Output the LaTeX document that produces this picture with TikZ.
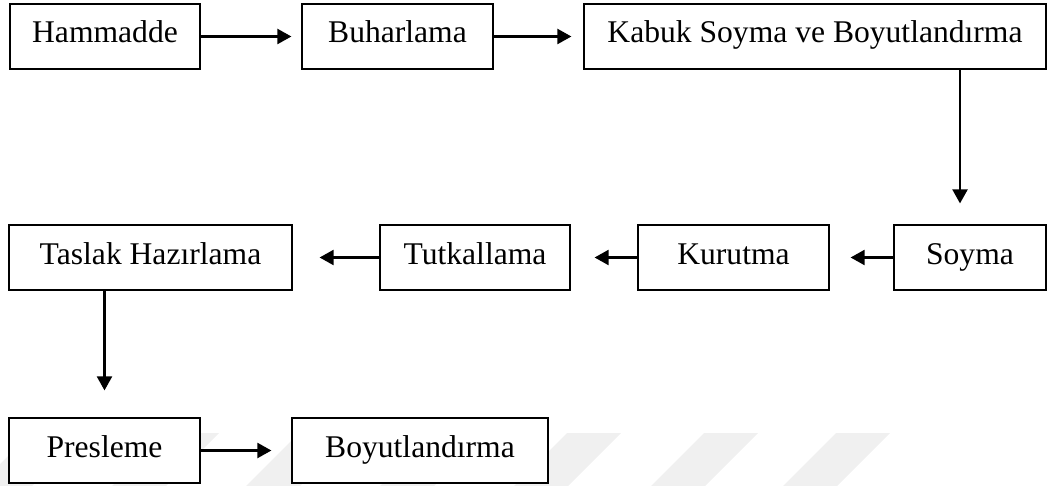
\documentclass[tikz,border=0pt]{standalone}
\usepackage{fontspec}
\setmainfont{Liberation Serif}
\usetikzlibrary{arrows.meta,positioning,calc}
\definecolor{Mark}{HTML}{F0F0F0}

\begin{document}
\begin{tikzpicture}[x=0.5pt,y=-0.5pt,
  box/.style={draw,fill=white,line width=0.6pt,minimum height=32.5pt,inner sep=0pt,
    text height=10pt,text depth=3.5pt,font=\fontsize{15.8}{19}\selectfont},
  flow/.style={line width=1.1pt,-{Triangle[length=7pt,width=7.5pt]}}]
\useasboundingbox (0,0) rectangle (1048,486);
% faint stripes at the bottom
\foreach \t in {31,165,299,433,567,704,836}
  \fill[Mark] (\t,433) -- (\t+54,433) -- (\t+1,486) -- (\t-53,486) -- cycle;
% first row
\node[box,minimum width=95pt] (ham) at (105,36.5) {Hammadde};
\node[box,minimum width=95.5pt] (buh) at (397.5,36.5) {Buharlama};
\node[box,minimum width=231pt] (kab) at (815,36.5) {Kabuk Soyma ve Boyutlandırma};
% second row
\node[box,minimum width=76pt] (soy) at (970,257.5) {Soyma};
\node[box,minimum width=95.5pt] (kur) at (733.5,257.5) {Kurutma};
\node[box,minimum width=95pt] (tut) at (475,257.5) {Tutkallama};
\node[box,minimum width=141.5pt] (tas) at (150.5,257.5) {Taslak Hazırlama};
% third row
\node[box,minimum width=95.5pt] (pres) at (104.5,450.5) {Presleme};
\node[box,minimum width=128pt] (boy) at (420,450.5) {Boyutlandırma};
\coordinate (soyin) at ($(soy.north)+(-10,0)$);
\draw[flow,shorten >=5pt] (ham) -- (buh);
\draw[flow,shorten >=6pt] (buh) -- (kab);
\draw[flow,shorten >=10.5pt] (kab.south -| soyin) -- (soyin);
\draw[flow,shorten >=10.5pt] (soy) -- (kur);
\draw[flow,shorten >=12pt] (kur) -- (tut);
\draw[flow,shorten >=13.5pt] (tut) -- (tas);
\draw[flow,shorten >=13.5pt] (tas.south -| pres.north) -- (pres.north);
\draw[flow,shorten >=10pt] (pres) -- (boy);
\end{tikzpicture}
\end{document}
